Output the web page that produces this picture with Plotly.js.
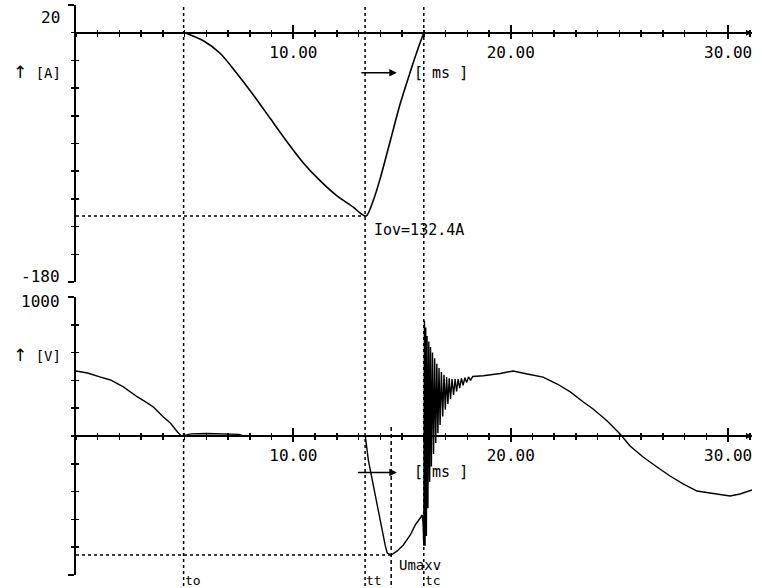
<!DOCTYPE html>
<html>
<head>
<meta charset="utf-8">
<script src="https://cdn.plot.ly/plotly-3.0.1.min.js"></script>
<style>html,body{margin:0;padding:0;background:#fff;}#chart{width:765px;height:588px;}</style>
</head>
<body>
<div id="chart"></div>
<script>
// ---- data ----
// current I [A] vs time [ms]
const curTime  = [5.0, 5.86, 6.64, 7.43, 8.16, 8.94, 9.72, 10.46, 11.24, 12.02, 12.76, 13.1, 13.35, 13.68, 14.0, 14.46, 14.92, 15.24, 15.7, 16.0];
const curValue = [0, -5.8, -15, -30, -45, -62, -79, -94, -107, -118, -126, -130.5, -132.4, -121, -105, -78, -51, -35, -13, 0];

// voltage U [V] vs time [ms]
const voltTime = [0.0, 0.53, 1.13, 1.59, 2.18, 2.83, 3.29, 3.56, 4.02, 4.34, 4.67, 4.85, 5.0, 5.3, 6.0, 7.0, 7.5, 7.7, 13.31,
  13.45, 13.63, 13.77, 13.91, 14.09, 14.23, 14.32, 14.5, 14.78, 15.06, 15.38, 15.61, 15.84, 15.93, 15.97,
  16.00, 16.03, 16.06, 16.09, 16.12, 16.15, 16.19, 16.23, 16.27, 16.31, 16.35, 16.40, 16.45, 16.50, 16.55,
  16.60, 16.65, 16.70, 16.75, 16.81, 16.87, 16.93, 16.99, 17.05, 17.11, 17.17, 17.23, 17.30, 17.37, 17.44,
  17.51, 17.58, 17.65, 17.73, 17.81, 17.89, 17.97, 18.06, 18.15, 18.25, 18.74, 19.52, 20.11, 20.76, 21.49,
  22.14, 22.74, 23.34, 23.79, 24.44, 25.03, 25.49, 26.09, 26.73, 27.33, 27.93, 28.57, 29.17, 30.09, 30.55, 31.10];
const voltValue = [468, 453, 424, 403, 353, 281, 237, 209, 137, 94, 29, 0, 5, 15, 18, 15, 12, 0, 0,
  -173, -316, -432, -554, -698, -791, -842, -856, -827, -784, -712, -640, -590, -568, -640,
  -790, 830, -790, 780, -720, 720, -520, 680, -330, 640, -220, 600, -130, 560, -50,
  520, 20, 490, 80, 460, 140, 440, 190, 425, 230, 415, 265, 410, 295, 410,
  320, 410, 345, 415, 365, 420, 385, 425, 400, 428, 434, 450, 468, 446, 424,
  374, 317, 245, 194, 108, 14, -72, -151, -223, -288, -345, -396, -410, -432, -417, -388];

// marker times [ms] and levels
const markerNames = ['to', 'tt', 'tc'];
const markerTimes = [4.95, 13.3, 16.0];
const tUmax = 14.5;
const Iov = -132.4;
const Umax = -856;

// axis ranges / ticks
const timeRange = [0, 31.1];
const timeTicks = [10, 20, 30];
const curRange = [-180, 20];
const voltRange = [-1000, 1000];

// ---- layout ----
const FONT = 'DejaVu Sans Mono, Liberation Mono, monospace';
const topDom = [0.514, 1];
const botDom = [0, 0.4877];
const zeroPos = (dom, r) => dom[0] + (0 - r[0]) / (r[1] - r[0]) * (dom[1] - dom[0]);
const topZero = zeroPos(topDom, curRange);
const botZero = zeroPos(botDom, voltRange);

function xAxis(pos, inside, overlay) {
  const a = {
    domain: [0, 1], range: timeRange, anchor: 'free', position: pos,
    showgrid: false, zeroline: false,
    tickmode: 'array', tickvals: timeTicks, tickformat: '.2f',
    ticks: inside ? 'inside' : 'outside', ticklen: inside ? 8 : 5, tickwidth: 2, tickcolor: '#000',
    minor: {tickmode: 'linear', tick0: 0, dtick: 1, ticks: inside ? 'inside' : 'outside', ticklen: 3, tickwidth: 1.5, tickcolor: '#000'},
    showline: !inside, linecolor: '#000', linewidth: 2,
    showticklabels: !inside,
    tickfont: {family: FONT, size: 16, color: '#000'}
  };
  if (overlay) a.overlaying = overlay;
  return a;
}
function yAxis(dom, r, anchor, dt, inside, overlay) {
  const a = {
    domain: dom, range: r, anchor: anchor, side: 'left',
    showgrid: false, zeroline: false,
    tickmode: 'array', tickvals: [r[0], r[1]], showticklabels: false,
    ticks: inside ? 'inside' : 'outside', ticklen: 6, tickwidth: 2, tickcolor: '#000',
    minor: {tickmode: 'linear', tick0: 0, dtick: dt, ticks: inside ? 'inside' : 'outside', ticklen: 3, tickwidth: 1.5, tickcolor: '#000'},
    showline: !inside, linecolor: '#000', linewidth: 2
  };
  if (overlay) a.overlaying = overlay;
  return a;
}

const data = [
  {x: curTime, y: curValue, xaxis: 'x', yaxis: 'y', mode: 'lines', line: {color: '#000', width: 1.6, shape: 'spline', smoothing: 0.8}, hoverinfo: 'skip'},
  {x: voltTime, y: voltValue, xaxis: 'x2', yaxis: 'y2', mode: 'lines', line: {color: '#000', width: 1.4}, hoverinfo: 'skip'},
  // invisible carriers for the inner-tick overlay axes
  {x: [curTime[0]], y: [curValue[0]], xaxis: 'x3', yaxis: 'y', mode: 'markers', marker: {opacity: 0}, hoverinfo: 'skip'},
  {x: [voltTime[0]], y: [voltValue[0]], xaxis: 'x4', yaxis: 'y2', mode: 'markers', marker: {opacity: 0}, hoverinfo: 'skip'},
  {x: [curTime[0]], y: [curValue[0]], xaxis: 'x', yaxis: 'y3', mode: 'markers', marker: {opacity: 0}, hoverinfo: 'skip'},
  {x: [voltTime[0]], y: [voltValue[0]], xaxis: 'x2', yaxis: 'y4', mode: 'markers', marker: {opacity: 0}, hoverinfo: 'skip'}
];

const dotLine = {color: '#000', width: 1.5, dash: 'dot'};
const shapes = [];
markerTimes.forEach(t => shapes.push({type: 'line', xref: 'x', yref: 'paper', x0: t, x1: t, y0: -0.03, y1: 1, line: dotLine}));
shapes.push({type: 'line', xref: 'x2', yref: 'paper', x0: tUmax, x1: tUmax, y0: -0.03, y1: 0.265, line: {color: '#000', width: 1.5, dash: '4px,3px'}});
shapes.push({type: 'line', xref: 'x', yref: 'y', x0: 0, x1: markerTimes[1], y0: Iov, y1: Iov, line: dotLine});
shapes.push({type: 'line', xref: 'x2', yref: 'y2', x0: 0, x1: tUmax, y0: Umax, y1: Umax, line: dotLine});

const txt = (s) => ({family: FONT, size: s || 16, color: '#000'});
const ARROW_UP = '<span style="font-family:DejaVu Sans;font-size:17px">↑</span>';
const annotations = [
  {xref: 'paper', yref: 'y', x: -0.02, y: 11.3, text: '20', showarrow: false, xanchor: 'right', yanchor: 'middle', font: txt(16)},
  {xref: 'paper', yref: 'y', x: -0.02, y: -176, text: '-180', showarrow: false, xanchor: 'right', yanchor: 'middle', font: txt(16)},
  {xref: 'paper', yref: 'y2', x: -0.02, y: 971, text: '1000', showarrow: false, xanchor: 'right', yanchor: 'middle', font: txt(16)},
  {xref: 'paper', yref: 'y2', x: -0.02, y: -1016, text: '-1000', showarrow: false, xanchor: 'right', yanchor: 'middle', font: txt(16)},
  {xref: 'paper', yref: 'y', x: -0.058, y: -28.4, text: ARROW_UP + ' [A]', showarrow: false, xanchor: 'center', yanchor: 'middle', font: txt(14)},
  {xref: 'paper', yref: 'y2', x: -0.058, y: 583, text: ARROW_UP + ' [V]', showarrow: false, xanchor: 'center', yanchor: 'middle', font: txt(14)},
  // unit arrows
  {xref: 'x', yref: 'y', x: 14.76, y: -29, axref: 'x', ayref: 'y', ax: 13.06, ay: -29, text: '', showarrow: true, arrowhead: 2, arrowwidth: 1.5, arrowsize: 1, arrowcolor: '#000'},
  {xref: 'x', yref: 'y', x: 16.78, y: -29, text: '[ ms ]', showarrow: false, xanchor: 'center', yanchor: 'middle', font: txt(15)},
  {xref: 'x2', yref: 'y2', x: 14.76, y: -262, axref: 'x2', ayref: 'y2', ax: 12.9, ay: -262, text: '', showarrow: true, arrowhead: 2, arrowwidth: 1.5, arrowsize: 1, arrowcolor: '#000'},
  {xref: 'x2', yref: 'y2', x: 16.78, y: -262, text: '[ ms ]', showarrow: false, xanchor: 'center', yanchor: 'middle', font: txt(15)},
  // axis end arrows
  {xref: 'x', yref: 'y', x: timeRange[1], y: 0, ax: -14, ay: 0, text: '', showarrow: true, arrowhead: 2, arrowwidth: 1.5, arrowsize: 0.8, arrowcolor: '#000'},
  {xref: 'x2', yref: 'y2', x: timeRange[1], y: 0, ax: -14, ay: 0, text: '', showarrow: true, arrowhead: 2, arrowwidth: 1.5, arrowsize: 0.8, arrowcolor: '#000'},
  // value labels
  {xref: 'x', yref: 'y', x: 13.6, y: -142.5, text: 'Iov=' + Math.abs(Iov).toFixed(1) + 'A', showarrow: false, xanchor: 'left', yanchor: 'middle', font: txt(15)},
  {xref: 'x2', yref: 'paper', x: tUmax + 0.25, y: 0.018, text: 'Umaxv', showarrow: false, xanchor: 'left', yanchor: 'middle', font: txt(14)}
];
markerNames.forEach((n, i) => annotations.push({xref: 'x2', yref: 'paper', x: markerTimes[i], y: -0.01, text: n, showarrow: false, xanchor: 'left', yanchor: 'middle', xshift: -1, font: txt(13)}));

const layout = {
  width: 765, height: 588,
  margin: {l: 76, r: 13, t: 5, b: 13, pad: 0},
  paper_bgcolor: '#fff', plot_bgcolor: '#fff',
  showlegend: false,
  xaxis: xAxis(topZero, false),
  xaxis2: xAxis(botZero, false),
  xaxis3: xAxis(topZero, true, 'x'),
  xaxis4: xAxis(botZero, true, 'x2'),
  yaxis: yAxis(topDom, curRange, 'x', 20, false),
  yaxis2: yAxis(botDom, voltRange, 'x2', 200, false),
  yaxis3: yAxis(topDom, curRange, 'x', 20, true, 'y'),
  yaxis4: yAxis(botDom, voltRange, 'x2', 200, true, 'y2'),
  shapes: shapes,
  annotations: annotations
};

Plotly.newPlot('chart', data, layout, {displayModeBar: false, staticPlot: true});
</script>
</body>
</html>
